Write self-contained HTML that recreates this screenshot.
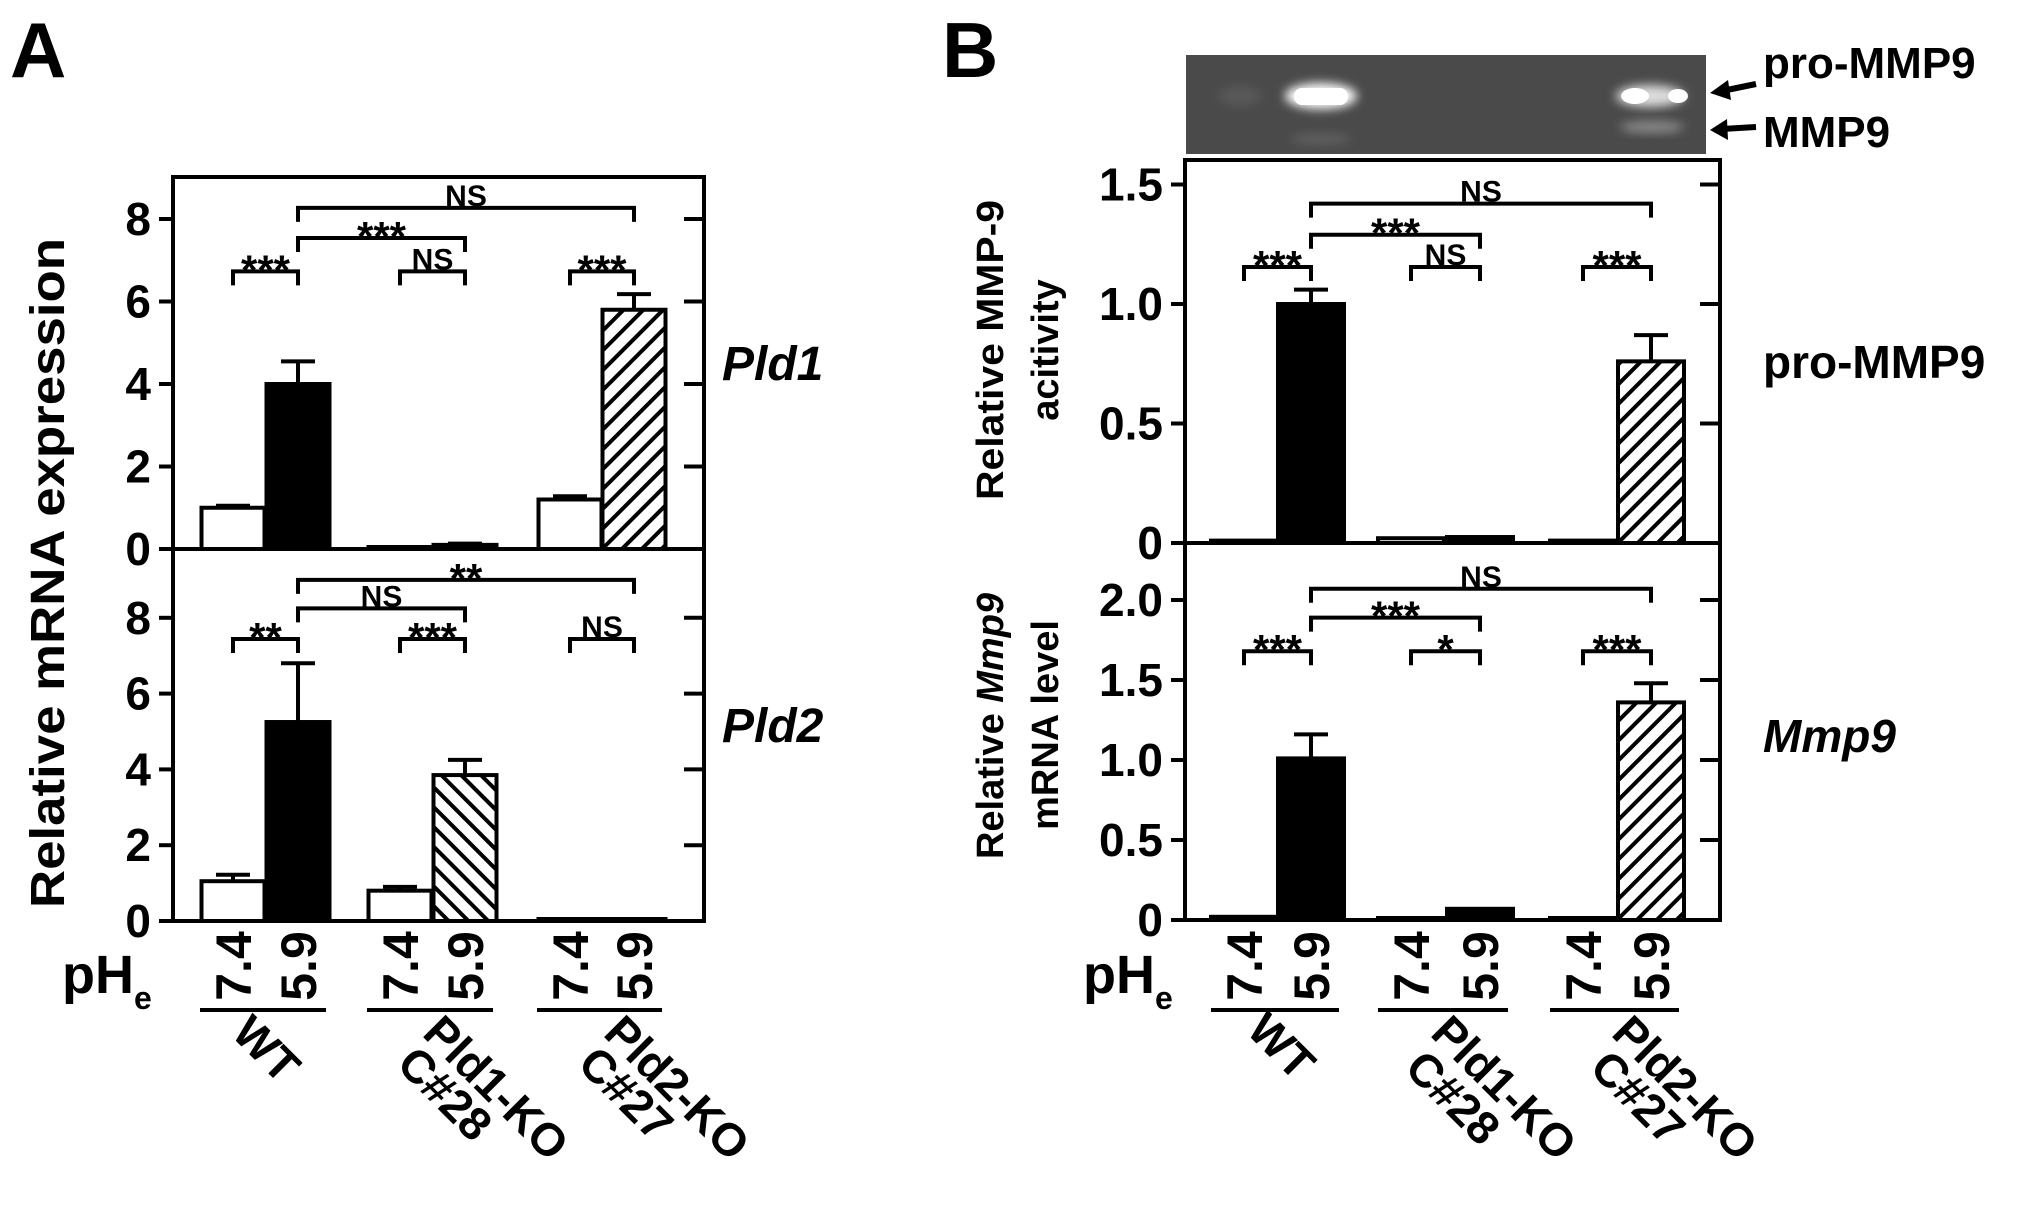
<!DOCTYPE html>
<html><head><meta charset="utf-8"><style>
html,body{margin:0;padding:0;background:#fff}
svg{display:block;font-family:"Liberation Sans",Arial,sans-serif;font-weight:bold}
</style></head><body>
<svg id="fig" width="2031" height="1207" viewBox="0 0 2031 1207">
<defs>
<pattern id="hatchF" patternUnits="userSpaceOnUse" width="14" height="14" patternTransform="rotate(45)"><rect width="14" height="14" fill="#fff"/><rect x="0" y="0" width="4" height="14" fill="#000"/></pattern>
<pattern id="hatchB" patternUnits="userSpaceOnUse" width="14" height="14" patternTransform="rotate(-45)"><rect width="14" height="14" fill="#fff"/><rect x="0" y="0" width="4" height="14" fill="#000"/></pattern>
<filter id="blur" x="-50%" y="-50%" width="200%" height="200%"><feGaussianBlur stdDeviation="5"/></filter>
</defs>
<text x="10" y="77" font-size="78">A</text>
<text x="942" y="77" font-size="78">B</text>
<g id="gel">
<rect x="1186" y="55" width="520" height="99" fill="#4a4a4a"/>
<ellipse cx="1240" cy="96" rx="22" ry="10" fill="#585858" filter="url(#blur)"/>
<ellipse cx="1321" cy="96" rx="36" ry="13" fill="#fff" filter="url(#blur)"/>
<rect x="1294" y="88" width="54" height="17" rx="8" fill="#fff"/>
<ellipse cx="1321" cy="139" rx="30" ry="6" fill="#5e5e5e" filter="url(#blur)"/>
<ellipse cx="1650" cy="96" rx="34" ry="11" fill="#ddd" filter="url(#blur)"/>
<ellipse cx="1635" cy="96" rx="14" ry="8" fill="#fff"/>
<ellipse cx="1678" cy="96" rx="10" ry="7" fill="#fff"/>
<ellipse cx="1652" cy="127" rx="32" ry="6" fill="#8a8a8a" filter="url(#blur)"/>
</g>
<text x="1763" y="78" font-size="44">pro-MMP9</text>
<text x="1763" y="147" font-size="44">MMP9</text>
<g>
<line x1="1756" y1="84" x2="1722" y2="91" stroke="#000" stroke-width="6"/>
<polygon points="1710,93 1728,80 1731,100" fill="#000"/>
<line x1="1756" y1="127" x2="1722" y2="129" stroke="#000" stroke-width="6"/>
<polygon points="1710,130 1727,119 1728,140" fill="#000"/>
</g>
<g id="charts"></g>
</svg>
<script>
// ---- data ----
var categories = ["WT 7.4","WT 5.9","Pld1-KO 7.4","Pld1-KO 5.9","Pld2-KO 7.4","Pld2-KO 5.9"];
var phLabels = ["7.4","5.9","7.4","5.9","7.4","5.9"];
var pld1Values = [1.0, 4.0, 0.02, 0.1, 1.2, 5.8];
var pld1Errors = [0.05, 0.55, 0.0, 0.03, 0.08, 0.38];
var pld2Values = [1.05, 5.25, 0.8, 3.85, 0.03, 0.05];
var pld2Errors = [0.17, 1.55, 0.1, 0.4, 0.0, 0.0];
var proMmp9Values = [0.01, 1.0, 0.02, 0.025, 0.01, 0.76];
var proMmp9Errors = [0.0, 0.06, 0.0, 0.0, 0.0, 0.11];
var mmp9Values = [0.02, 1.01, 0.01, 0.07, 0.01, 1.36];
var mmp9Errors = [0.0, 0.15, 0.0, 0.0, 0.0, 0.12];
var pldTicks = [0, 2, 4, 6, 8];
var mmpActTicks = [0, 0.5, 1.0, 1.5];
var mmpRnaTicks = [0, 0.5, 1.0, 1.5, 2.0];
var mmpActTickLabels = ["0","0.5","1.0","1.5"];
var mmpRnaTickLabels = ["0","0.5","1.0","1.5","2.0"];
// significance: [fromBar, toBar, level, label]
var pld1Sig = [[1,5,8.27,"NS"],[1,3,7.54,"***"],[0,1,6.73,"***"],[2,3,6.73,"NS"],[4,5,6.73,"***"]];
var pld2Sig = [[1,5,9.0,"**"],[1,3,8.25,"NS"],[0,1,7.44,"**"],[2,3,7.44,"***"],[4,5,7.44,"NS"]];
var proSig = [[1,5,1.42,"NS"],[1,3,1.29,"***"],[0,1,1.155,"***"],[2,3,1.155,"NS"],[4,5,1.155,"***"]];
var mmpSig = [[1,5,2.07,"NS"],[1,3,1.89,"***"],[0,1,1.68,"***"],[2,3,1.68,"*"],[4,5,1.68,"***"]];
var groupNames = [["WT"],["Pld1-KO","C#28"],["Pld2-KO","C#27"]];

var NS = "http://www.w3.org/2000/svg";
var root = document.getElementById('charts');
function mk(tag, attrs, parent, txt){
  var e = document.createElementNS(NS, tag);
  for (var k in attrs) e.setAttribute(k, attrs[k]);
  if (txt !== undefined) e.textContent = txt;
  (parent || root).appendChild(e);
  return e;
}

function drawPlot(cfg){
  var g = mk('g', {});
  
  
  function y(v){ return cfg.y0 - v * cfg.unit; }
  function x(i){ return cfg.centers[i]; }
  for (var i = 0; i < cfg.values.length; i++){
    var fill = cfg.fills[i];
    var v = cfg.values[i];
    var h = Math.max(cfg.y0 - y(v), 2);
    var b = mk('rect', {x: x(i) - cfg.bw/2, y: cfg.y0 - h, width: cfg.bw, height: h, fill: fill, stroke: '#000', 'stroke-width': 4}, g);
    
    
    var e = cfg.errors[i];
    if (e > 0){
      var eb = mk('path', {d: 'M' + x(i) + ',' + y(v) + 'V' + y(v + e) + 'M' + (x(i) - 17) + ',' + y(v + e) + 'H' + (x(i) + 17), stroke: '#000', 'stroke-width': 4, fill: 'none'}, g);
      
      
    }
  }
  var fr = mk('rect', {x: cfg.x0, y: cfg.top, width: cfg.x1 - cfg.x0, height: cfg.y0 - cfg.top, fill: 'none', stroke: '#000', 'stroke-width': 4}, g);
  
  
  for (var t = 0; t < cfg.ticks.length; t++){
    var ty = y(cfg.ticks[t]);
    mk('line', {x1: cfg.x0 - 14, x2: cfg.x0, y1: ty, y2: ty, stroke: '#000', 'stroke-width': 4}, g);
    mk('line', {x1: cfg.x1 - 20, x2: cfg.x1, y1: ty, y2: ty, stroke: '#000', 'stroke-width': 4}, g);
    var tl = mk('text', {x: cfg.x0 - 22, y: ty + 16, 'font-size': 46, 'text-anchor': 'end'}, g, cfg.tickLabels[t]);
    
    
  }
  for (var s = 0; s < cfg.sig.length; s++){
    var sg = cfg.sig[s];
    var sy = y(sg[2]);
    var xa = x(sg[0]), xb = x(sg[1]);
    var br = mk('path', {d: 'M' + xa + ',' + (sy + 14) + 'V' + sy + 'H' + xb + 'V' + (sy + 14), stroke: '#000', 'stroke-width': 4, fill: 'none'}, g);
    
    
    var isStar = sg[3].indexOf('*') >= 0;
    var lt = mk('text', {x: (xa + xb)/2, y: sy + (isStar ? 13 : -2), 'font-size': isStar ? 42 : 30, 'text-anchor': 'middle'}, g, sg[3]);
    
    
  }
}

function drawXAxis(centers, pheX, groupPos){
  var g = mk('g', {});
  
  
  for (var i = 0; i < phLabels.length; i++){
    var t = mk('text', {x: 0, y: 0, 'font-size': 50, 'text-anchor': 'middle', transform: 'translate(' + (centers[i] + 18) + ',966) rotate(-90)'}, g, phLabels[i]);
    
    
  }
  for (var k = 0; k < 3; k++){
    var a = centers[2*k] - 33, b = centers[2*k+1] + 28;
    var ul = mk('line', {x1: a, x2: b, y1: 1010, y2: 1010, stroke: '#000', 'stroke-width': 4}, g);
    
    
    var names = groupNames[k];
    for (var n = 0; n < names.length; n++){
      var p = groupPos[k][n];
      var gt = mk('text', {x: 0, y: 0, 'font-size': 46, transform: 'translate(' + p[0] + ',' + p[1] + ') rotate(45)'}, g, names[n]);
      
      
    }
  }
  var ph = mk('text', {x: pheX, y: 993, 'font-size': 54}, g, 'pH');
  
  
  mk('tspan', {'font-size': 32, dy: 16}, ph, 'e');
}

var aCenters = [233, 298, 400, 465, 570, 634];
var bCenters = [1244, 1311, 1411, 1480, 1583, 1651];
var fillTop = ['#fff', '#000', '#fff', '#000', '#fff', 'url(#hatchF)'];
var fillBotA = ['#fff', '#000', '#fff', 'url(#hatchB)', '#fff', 'url(#hatchF)'];

drawPlot({name: 'pld1-chart', x0: 173, x1: 704, top: 177, y0: 549, unit: 41.25, centers: aCenters, bw: 63,
  values: pld1Values, errors: pld1Errors, fills: fillTop, ticks: pldTicks, tickLabels: pldTicks.map(String), sig: pld1Sig});
drawPlot({name: 'pld2-chart', x0: 173, x1: 704, top: 549, y0: 921, unit: 37.9, centers: aCenters, bw: 63,
  values: pld2Values, errors: pld2Errors, fills: fillBotA, ticks: pldTicks, tickLabels: pldTicks.map(String), sig: pld2Sig});
drawPlot({name: 'pro-mmp9-chart', x0: 1185, x1: 1720, top: 160, y0: 543, unit: 239, centers: bCenters, bw: 66,
  values: proMmp9Values, errors: proMmp9Errors, fills: fillTop, ticks: mmpActTicks, tickLabels: mmpActTickLabels, sig: proSig});
drawPlot({name: 'mmp9-mrna-chart', x0: 1185, x1: 1720, top: 543, y0: 920, unit: 160, centers: bCenters, bw: 66,
  values: mmp9Values, errors: mmp9Errors, fills: fillTop, ticks: mmpRnaTicks, tickLabels: mmpRnaTickLabels, sig: mmpSig});

drawXAxis(aCenters, 62, [[[230,1035]],[[421,1035],[395,1066]],[[602,1035],[576,1066]]]);
drawXAxis(bCenters, 1083, [[[1245,1032]],[[1429,1035],[1403,1070]],[[1610,1035],[1588,1070]]]);

function label(txt, x, y, size, rot, name, italic, len){
  var a = {x: 0, y: 0, 'font-size': size, 'text-anchor': rot ? 'middle' : 'start', transform: 'translate(' + x + ',' + y + ')' + (rot ? ' rotate(-90)' : '')};
  if (italic) a['font-style'] = 'italic';
  if (len) { a.textLength = len; a.lengthAdjust = 'spacingAndGlyphs'; }
  var t = mk('text', a, root, txt);
  
  
  return t;
}
label('Relative mRNA expression', 64, 573, 48, true, 'y-axis-title-a', false, 670);
label('Pld1', 722, 380, 48, false, 'pld1-label', true);
label('Pld2', 722, 742, 48, false, 'pld2-label', true);
label('Relative MMP-9', 1003, 350, 38, true, 'y-axis-title-pro-mmp9', false, 300);
label('acitivity', 1058, 350, 38, true, 'y-axis-title-activity', false);
var t2 = label('Relative ', 1003, 726, 38, true, 'y-axis-title-mmp9', false);
mk('tspan', {'font-style': 'italic'}, t2, 'Mmp9');
label('mRNA level', 1058, 725, 38, true, 'y-axis-title-mrna-level', false);
label('pro-MMP9', 1763, 378, 46, false, 'pro-mmp9-label', false);
label('Mmp9', 1763, 752, 46, false, 'mmp9-label', true);
</script>
</body></html>
